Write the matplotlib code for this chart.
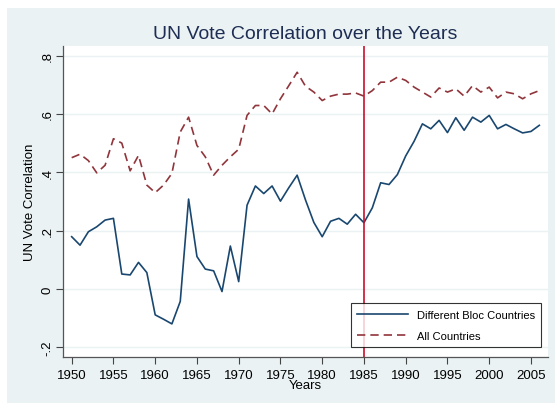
import numpy as np
import matplotlib.pyplot as plt
from matplotlib.patches import Rectangle

#--Données ---------------------------------
annees = np.arange(1950, 2007)

bloc_diff = [0.179, 0.150, 0.196, 0.213, 0.236, 0.242, 0.051, 0.048, 0.091, 0.056,
             -0.089, -0.104, -0.120, -0.043, 0.308, 0.111, 0.068, 0.062, -0.009, 0.147,
             0.025, 0.287, 0.353, 0.327, 0.353, 0.301, 0.347, 0.390, 0.305, 0.228,
             0.179, 0.232, 0.242, 0.222, 0.256, 0.227, 0.278, 0.364, 0.358, 0.392,
             0.456, 0.506, 0.566, 0.549, 0.578, 0.536, 0.587, 0.544, 0.589, 0.572,
             0.595, 0.549, 0.564, 0.549, 0.535, 0.540, 0.561]

tous_pays = [0.450, 0.462, 0.440, 0.398, 0.424, 0.515, 0.500, 0.405, 0.458, 0.356,
             0.330, 0.356, 0.396, 0.538, 0.589, 0.492, 0.453, 0.390, 0.424, 0.453,
             0.479, 0.595, 0.629, 0.629, 0.600, 0.652, 0.697, 0.743, 0.695, 0.675,
             0.646, 0.661, 0.668, 0.668, 0.672, 0.661, 0.680, 0.709, 0.709, 0.726,
             0.715, 0.692, 0.675, 0.658, 0.689, 0.675, 0.686, 0.661, 0.697, 0.675,
             0.692, 0.655, 0.675, 0.669, 0.652, 0.669, 0.680]

xticks = list(range(1950, 2006, 5))
yticks = [-0.2, 0, 0.2, 0.4, 0.6, 0.8]
ylabels = ["-.2", "0", ".2", ".4", ".6", ".8"]

#--Couleurs (style Stata s2color) ----------
fond = "#EAF2F3"
bleu = "#1A476F"
rouge = "#90353B"

plt.rcParams['font.family'] = ['Liberation Sans', 'DejaVu Sans']

fig = plt.figure(figsize=(5.55, 4.06), dpi=100, facecolor="white")
fig.patches.append(Rectangle((7/555, 2/406), 1 - 7/555, 1 - 11/406,
                             transform=fig.transFigure, facecolor=fond,
                             edgecolor="none", zorder=-10))

ax = fig.add_axes([63/555, 1 - 358/406, 485/555, 311/406])
ax.set_facecolor("white")

ax.plot(annees, bloc_diff, color=bleu, lw=1.2, label="Different Bloc Countries")
ax.plot(annees, tous_pays, color=rouge, lw=1.2, ls=(0, (5, 3)), label="All Countries")
ax.axvline(1985, color="#C8102E", lw=1.2)

ax.set_xlim(1948.96, 2007.04)
ax.set_ylim(-0.2335, 0.833)
ax.set_xticks(xticks)
ax.set_yticks(yticks)
ax.set_yticklabels(ylabels, rotation=90, va="center")
ax.tick_params(axis="both", labelsize=9.5, length=5, width=0.8, color="#444444")
ax.tick_params(axis="y", pad=2)
ax.grid(axis="y", color=fond, lw=1)
ax.set_axisbelow(True)

for s in ["top", "right"]:
    ax.spines[s].set_visible(False)
for s in ["left", "bottom"]:
    ax.spines[s].set_color("#555555")
    ax.spines[s].set_linewidth(0.9)

ax.set_xlabel("Years", fontsize=9.5, labelpad=-1)
ax.set_ylabel("UN Vote Correlation", fontsize=9.5, labelpad=4)
ax.set_title("UN Vote Correlation over the Years", fontsize=14, color="#1E2D53", pad=6)

leg = ax.legend(loc="lower right", fontsize=8, frameon=True, fancybox=False,
                edgecolor="black", handlelength=4.6, borderpad=0.55,
                bbox_to_anchor=(0.998, 0.015), labelspacing=1.0, handletextpad=0.8)
leg.get_frame().set_linewidth(0.8)

fig.savefig("out.png", dpi=100, facecolor=fig.get_facecolor())
